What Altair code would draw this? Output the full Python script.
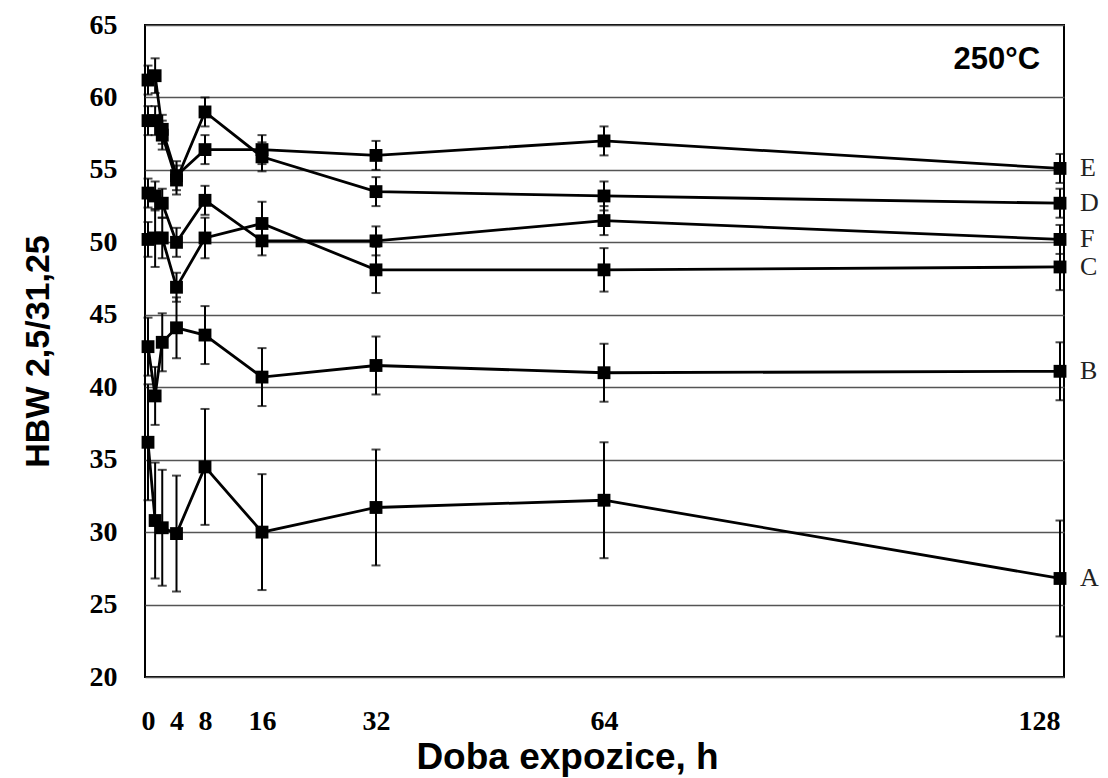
import altair as alt
import pandas as pd

times = [0, 1, 2, 4, 8, 16, 32, 64, 128]
series_names = ["A", "B", "C", "D", "E", "F"]
A = [36.2, 30.8, 30.3, 29.9, 34.5, 30.0, 31.7, 32.2, 26.8]
A_err = [4.0, 4.0, 4.0, 4.0, 4.0, 4.0, 4.0, 4.0, 4.0]
B = [42.8, 39.4, 43.1, 44.1, 43.6, 40.7, 41.5, 41.0, 41.1]
B_err = [2.0, 2.0, 2.0, 2.1, 2.0, 2.0, 2.0, 2.0, 2.0]
C = [50.2, 50.3, 50.3, 46.9, 50.3, 51.3, 48.1, 48.1, 48.3]
C_err = [1.2, 2.0, 1.4, 1.0, 1.4, 1.5, 1.6, 1.5, 1.6]
D = [58.4, 58.4, 57.4, 54.3, 59.0, 55.9, 53.5, 53.2, 52.7]
D_err = [1.0, 1.0, 1.0, 1.0, 1.0, 1.0, 1.0, 1.0, 1.0]
E = [61.2, 61.5, 57.8, 54.6, 56.4, 56.4, 56.0, 57.0, 55.1]
E_err = [1.0, 1.2, 1.0, 1.0, 1.0, 1.0, 1.0, 1.0, 1.0]
F = [53.4, 53.2, 52.7, 50.0, 52.9, 50.1, 50.1, 51.5, 50.2]
F_err = [1.0, 1.0, 1.0, 1.0, 1.0, 1.0, 1.0, 1.0, 1.0]

x_ticks = [0, 4, 8, 16, 32, 64, 128]
y_ticks = [20, 25, 30, 35, 40, 45, 50, 55, 60, 65]
temp_label = "250°C"

vals = {"A": (A, A_err), "B": (B, B_err), "C": (C, C_err),
        "D": (D, D_err), "E": (E, E_err), "F": (F, F_err)}
rows = []
for s in series_names:
    v, e = vals[s]
    for t, vv, ee in zip(times, v, e):
        rows.append({"s": s, "t": t, "v": vv, "lo": vv - ee, "hi": vv + ee})
df = pd.DataFrame(rows)
ends = df[df["t"] == 128]
ann = pd.DataFrame({"t": [125.2], "v": [62.6], "label": [temp_label]})

xscale = alt.Scale(domain=[-0.421, 128.56], nice=False, zero=False)
yscale = alt.Scale(domain=[20, 65], nice=False, zero=False)

xaxis = alt.Axis(values=x_ticks, grid=False, ticks=False, domain=False,
                 labelFont="Liberation Serif", labelFontWeight="bold",
                 labelFontSize=28, labelColor="black", labelPadding=30,
                 labelOverlap=False, labelFlush=False,
                 labelAlign={"condition": {"test": "datum.value == 128", "value": "right"}, "value": "center"},
                 titleFont="Liberation Sans", titleFontWeight="bold",
                 titleFontSize=37, titleColor="black", titleX=422, titleY=80,
                 titleBaseline="middle", titleAlign="center")
yaxis = alt.Axis(values=y_ticks, grid=True, gridColor="#555555", gridWidth=1.3,
                 ticks=False, domain=False,
                 labelFont="Liberation Serif", labelFontWeight="bold",
                 labelFontSize=28, labelColor="black", labelPadding=28,
                 titleFont="Liberation Sans", titleFontWeight="bold",
                 titleFontSize=34, titleColor="black", titleX=-107, titleY=326,
                 titleAngle=-90, titleBaseline="middle", titleAlign="center")

X = alt.X("t:Q", scale=xscale, axis=xaxis, title="Doba expozice, h")
def Y(field):
    return alt.Y(field, scale=yscale, axis=yaxis, title="HBW 2,5/31,25")

base = alt.Chart(df)
lines = base.mark_line(color="black", strokeWidth=2.8).encode(
    x=X, y=Y("v:Q"), detail="s:N", order="t:Q")
bars = base.mark_rule(color="black", strokeWidth=2).encode(
    x=X, y=Y("lo:Q"), y2="hi:Q")
cap_lo = base.mark_tick(orient="horizontal", size=9, thickness=2, color="black").encode(
    x=X, y=Y("lo:Q"))
cap_hi = base.mark_tick(orient="horizontal", size=9, thickness=2, color="black").encode(
    x=X, y=Y("hi:Q"))
pts = base.mark_square(size=165, color="black", opacity=1, filled=True).encode(
    x=X, y=Y("v:Q"))
labels = alt.Chart(ends).mark_text(align="left", baseline="middle", dx=20,
                                   font="Liberation Serif", fontSize=26,
                                   color="#222222").encode(
    x=X, y=Y("v:Q"), text="s:N")
temp = alt.Chart(ann).mark_text(align="right", baseline="middle",
                                font="Liberation Sans", fontWeight="bold",
                                fontSize=31, color="black").encode(
    x=X, y=Y("v:Q"), text="label:N")

chart = alt.layer(lines, bars, cap_lo, cap_hi, pts, labels, temp).properties(
    width=919, height=652,
    autosize=alt.AutoSizeParams(type="none"),
    padding={"left": 145, "top": 25, "right": 44, "bottom": 101},
    background="white",
).configure_view(stroke="black", strokeWidth=2)

chart.save("out.html", embed_options={"renderer": "svg", "actions": False})
